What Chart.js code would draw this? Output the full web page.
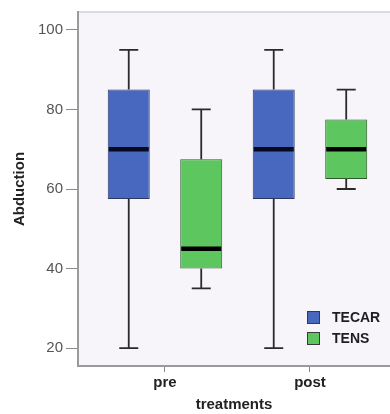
<!DOCTYPE html>
<html>
<head>
<meta charset="utf-8">
<script src="https://cdn.jsdelivr.net/npm/chart.js@4.4.1/dist/chart.umd.min.js"></script>
<style>
    body { margin: 0; background: #ffffff; }
    #wrap { width: 390px; height: 414px; }
</style>
</head>
<body>
<div id="wrap"><canvas id="boxChart" width="390" height="414"></canvas></div>
<script>
// categories and tick values
const categories = ['pre', 'post'];
const yTicks = [20, 40, 60, 80, 100];

// TECAR box stats per category
const tecarMin = [20, 20];
const tecarQ1 = [57.5, 57.5];
const tecarMedian = [70, 70];
const tecarQ3 = [85, 85];
const tecarMax = [95, 95];

// TENS box stats per category
const tensMin = [35, 60];
const tensQ1 = [40, 62.5];
const tensMedian = [45, 70];
const tensQ3 = [67.5, 77.5];
const tensMax = [80, 85];

const FONT = "'Liberation Sans', Arial, sans-serif";

function boxData(q1, q3, med, lo, hi, shift) {
    return categories.map((c, i) => ({
        x: i + shift,
        y: [q1[i], q3[i]],
        med: med[i],
        lo: lo[i],
        hi: hi[i]
    }));
}

// whiskers, caps and medians drawn on top of the floating bars
const whiskerPlugin = {
    id: 'whiskers',
    afterDatasetsDraw(chart) {
        const ctx = chart.ctx;
        const xs = chart.scales.x;
        const ys = chart.scales.y;
        chart.data.datasets.forEach((ds, di) => {
            const meta = chart.getDatasetMeta(di);
            ds.data.forEach((d, i) => {
                const bar = meta.data[i];
                const cx = xs.getPixelForValue(d.x);
                const half = bar.width / 2;
                const yLo = ys.getPixelForValue(d.lo);
                const yHi = ys.getPixelForValue(d.hi);
                const yQ1 = ys.getPixelForValue(d.y[0]);
                const yQ3 = ys.getPixelForValue(d.y[1]);
                const yMed = ys.getPixelForValue(d.med);
                ctx.save();
                ctx.strokeStyle = '#2a2a2a';
                ctx.lineWidth = 1.8;
                ctx.beginPath();
                ctx.moveTo(cx, yQ3); ctx.lineTo(cx, yHi);
                ctx.moveTo(cx, yQ1); ctx.lineTo(cx, yLo);
                ctx.moveTo(cx - half / 2 + 1, yHi); ctx.lineTo(cx + half / 2 - 1, yHi);
                ctx.moveTo(cx - half / 2 + 1, yLo); ctx.lineTo(cx + half / 2 - 1, yLo);
                ctx.stroke();
                ctx.strokeStyle = ds.medianColor;
                ctx.lineWidth = 4.5;
                ctx.beginPath();
                ctx.moveTo(cx - half + 1, yMed); ctx.lineTo(cx + half - 1, yMed);
                ctx.stroke();
                ctx.restore();
            });
        });
    }
};

// plot background and top frame line
const backgroundPlugin = {
    id: 'plotBackground',
    beforeDraw(chart) {
        const { ctx, chartArea } = chart;
        ctx.save();
        ctx.fillStyle = '#f7f5fa';
        ctx.fillRect(chartArea.left, chartArea.top, chart.width - chartArea.left, chartArea.bottom - chartArea.top);
        ctx.strokeStyle = '#d2d0d4';
        ctx.lineWidth = 1.5;
        ctx.beginPath();
        ctx.moveTo(chartArea.left, chartArea.top);
        ctx.lineTo(chart.width, chartArea.top);
        ctx.stroke();
        ctx.restore();
    }
};

// legend inside the plot, lower right
const insideLegendPlugin = {
    id: 'insideLegend',
    afterDraw(chart) {
        const { ctx, chartArea } = chart;
        const x0 = chartArea.right - 83;
        const y0 = chartArea.bottom - 55;
        ctx.save();
        chart.data.datasets.forEach((ds, i) => {
            const y = y0 + i * 21;
            ctx.fillStyle = ds.backgroundColor;
            ctx.strokeStyle = '#3a3a3a';
            ctx.lineWidth = 1;
            ctx.fillRect(x0, y, 13, 13);
            ctx.strokeRect(x0 + 0.5, y + 0.5, 12, 12);
            ctx.fillStyle = '#1e1e1e';
            ctx.font = 'bold 14px ' + FONT;
            ctx.textBaseline = 'middle';
            ctx.textAlign = 'left';
            ctx.fillText(ds.label, x0 + 25, y + 7);
        });
        ctx.restore();
    }
};

new Chart(document.getElementById('boxChart'), {
    type: 'bar',
    data: {
        datasets: [
            {
                label: 'TECAR',
                data: boxData(tecarQ1, tecarQ3, tecarMedian, tecarMin, tecarMax, -0.25),
                backgroundColor: '#4868c0',
                borderColor: '#2c3763',
                medianColor: '#070b22',
                borderWidth: 1,
                borderSkipped: false
            },
            {
                label: 'TENS',
                data: boxData(tensQ1, tensQ3, tensMedian, tensMin, tensMax, 0.25),
                backgroundColor: '#5ec65e',
                borderColor: '#2e5a2e',
                medianColor: '#000000',
                borderWidth: 1,
                borderSkipped: false
            }
        ]
    },
    options: {
        responsive: false,
        animation: false,
        grouped: false,
        maxBarThickness: 42,
        layout: { padding: { top: 11, right: 0, left: 0, bottom: 0 } },
        plugins: {
            legend: { display: false },
            tooltip: { enabled: false }
        },
        scales: {
            x: {
                type: 'linear',
                min: -0.6,
                max: 1.552,
                offset: false,
                afterBuildTicks: (scale) => {
                    scale.ticks = categories.map((c, i) => ({ value: i }));
                },
                afterFit: (scale) => { scale.height = 48; },
                ticks: {
                    callback: (v) => categories[v],
                    color: '#222222',
                    font: { family: FONT, size: 15, weight: 'bold' },
                    padding: 2,
                    maxRotation: 0
                },
                grid: { offset: false, drawOnChartArea: false, drawTicks: true, tickLength: 6, color: '#8a8a8a' },
                border: { display: true, color: '#9a9a9a', width: 2 },
                title: {
                    display: true,
                    text: 'treatments',
                    color: '#222222',
                    font: { family: FONT, size: 15, weight: 'bold' },
                    padding: { top: 0, bottom: 0 }
                }
            },
            y: {
                min: 15.5,
                max: 104.5,
                afterBuildTicks: (scale) => {
                    scale.ticks = yTicks.map(v => ({ value: v }));
                },
                afterFit: (scale) => { scale.width = 78; },
                ticks: {
                    color: '#555555',
                    font: { family: FONT, size: 15 },
                    padding: 3
                },
                grid: { drawOnChartArea: false, drawTicks: true, tickLength: 12, color: '#8a8a8a' },
                border: { display: true, color: '#9a9a9a', width: 2 },
                title: {
                    display: true,
                    text: 'Abduction',
                    color: '#222222',
                    font: { family: FONT, size: 15, weight: 'bold' },
                    padding: { top: 11, bottom: 0 }
                }
            }
        }
    },
    plugins: [backgroundPlugin, whiskerPlugin, insideLegendPlugin]
});
</script>
</body>
</html>
